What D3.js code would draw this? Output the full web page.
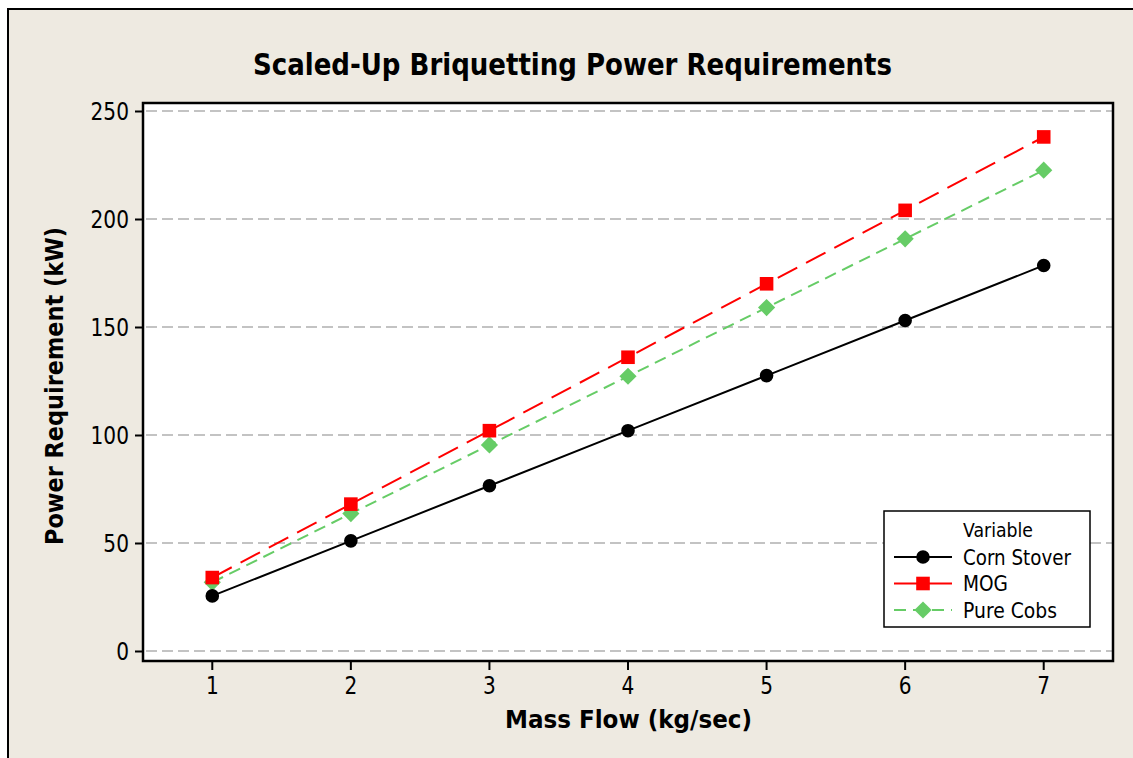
<!DOCTYPE html>
<html>
<head>
<meta charset="utf-8">
<script src="https://cdn.jsdelivr.net/npm/d3@7"></script>
<style>
  body { margin: 0; background: #ffffff; }
  text { font-family: "DejaVu Sans", Verdana, sans-serif; fill: #000; }
</style>
</head>
<body>
<svg id="chart" width="1133" height="758"></svg>
<script>
// Mass flow (kg/sec) on the x axis
const massFlow = [1, 2, 3, 4, 5, 6, 7];
// Power requirement (kW) per feedstock
const cornStover = [25.5, 51, 76.5, 102, 127.5, 153, 178.5];
const mog = [34, 68, 102, 136, 170, 204, 238];
const pureCobs = [31.8, 63.6, 95.4, 127.2, 159, 190.8, 222.6];
const seriesNames = ["Corn Stover", "MOG", "Pure Cobs"];
const xTicks = [1, 2, 3, 4, 5, 6, 7];
const yTicks = [0, 50, 100, 150, 200, 250];

const svg = d3.select("#chart");
const W = 1133, H = 758;

// panel background and outer frame
svg.append("rect").attr("x", 0).attr("y", 0).attr("width", W).attr("height", H).attr("fill", "#ffffff");
svg.append("rect").attr("x", 8).attr("y", 9).attr("width", W + 20).attr("height", H + 20)
  .attr("fill", "#eeeae1").attr("stroke", "#000").attr("stroke-width", 2);

const plot = { left: 143, right: 1113, top: 103, bottom: 661 };

const x = d3.scaleLinear().domain([0.5, 7.5]).range([plot.left, plot.right]);
const y = d3.scaleLinear().domain([0, 250]).range([651, 111]);

// plot area
svg.append("rect")
  .attr("x", plot.left).attr("y", plot.top)
  .attr("width", plot.right - plot.left).attr("height", plot.bottom - plot.top)
  .attr("fill", "#ffffff");

// horizontal dashed gridlines
svg.append("g").selectAll("line").data(yTicks).join("line")
  .attr("x1", plot.left + 3).attr("x2", plot.right - 1)
  .attr("y1", d => y(d)).attr("y2", d => y(d))
  .attr("stroke", "#c3c3c3").attr("stroke-width", 2)
  .attr("stroke-dasharray", "11,5");

// plot frame
svg.append("rect")
  .attr("x", plot.left).attr("y", plot.top)
  .attr("width", plot.right - plot.left).attr("height", plot.bottom - plot.top)
  .attr("fill", "none").attr("stroke", "#000").attr("stroke-width", 2.5);

const tickScale = 0.84;

// y axis
const yAxis = svg.append("g").attr("transform", `translate(${plot.left},0)`)
  .call(d3.axisLeft(y).tickValues(yTicks).tickSize(8).tickPadding(6).tickFormat(d3.format("d")));
yAxis.select(".domain").remove();
yAxis.selectAll(".tick line").attr("stroke", "#000").attr("stroke-width", 2);
yAxis.selectAll(".tick text")
  .attr("font-size", 24).attr("font-family", "DejaVu Sans")
  .attr("x", -14 / tickScale).attr("dy", "0.36em")
  .attr("transform", `scale(${tickScale},1)`);

// x axis
const xAxis = svg.append("g").attr("transform", `translate(0,${plot.bottom})`)
  .call(d3.axisBottom(x).tickValues(xTicks).tickSize(9).tickPadding(8).tickFormat(d3.format("d")));
xAxis.select(".domain").remove();
xAxis.selectAll(".tick line").attr("stroke", "#000").attr("stroke-width", 2);
xAxis.selectAll(".tick text")
  .attr("font-size", 24).attr("font-family", "DejaVu Sans")
  .attr("y", 16).attr("dy", "0.71em")
  .attr("transform", `scale(${tickScale},1)`)
  .attr("x", function () { return 0; });
// keep x tick labels centred on their tick after compression
xAxis.selectAll(".tick").each(function (d) {
  const g = d3.select(this);
  g.attr("transform", `translate(${x(d)},0)`);
});

// series drawing
const series = [
  { name: seriesNames[0], values: cornStover, color: "#000000", dash: null, marker: "circle" },
  { name: seriesNames[1], values: mog, color: "#ff0000", dash: "22,10", marker: "square" },
  { name: seriesNames[2], values: pureCobs, color: "#66cc66", dash: "12,7", marker: "diamond" }
];

function markerPath(type) {
  if (type === "circle") return d3.symbol(d3.symbolCircle, Math.PI * 6.8 * 6.8)();
  if (type === "square") return "M-6.8,-6.8H6.8V6.8H-6.8Z";
  return "M0,-8.6L8.6,0L0,8.6L-8.6,0Z";
}

const line = d3.line().x((d, i) => x(massFlow[i])).y(d => y(d));

// draw in back-to-front order: pure cobs, MOG, corn stover
[series[2], series[1], series[0]].forEach(s => {
  svg.append("path").datum(s.values)
    .attr("d", line)
    .attr("fill", "none")
    .attr("stroke", s.color).attr("stroke-width", 2)
    .attr("stroke-dasharray", s.dash);
  svg.append("g").selectAll("path").data(s.values).join("path")
    .attr("d", markerPath(s.marker))
    .attr("transform", (d, i) => `translate(${x(massFlow[i])},${y(d)})`)
    .attr("fill", s.color);
});

// title and axis labels
svg.append("text")
  .attr("x", 572.5).attr("y", 75)
  .attr("text-anchor", "middle")
  .attr("font-size", 31).attr("font-weight", "bold")
  .attr("textLength", 639).attr("lengthAdjust", "spacingAndGlyphs")
  .text("Scaled-Up Briquetting Power Requirements");

svg.append("text")
  .attr("x", 628.5).attr("y", 728)
  .attr("text-anchor", "middle")
  .attr("font-size", 25).attr("font-weight", "bold")
  .attr("textLength", 247).attr("lengthAdjust", "spacingAndGlyphs")
  .text("Mass Flow (kg/sec)");

svg.append("text")
  .attr("transform", "translate(63,386) rotate(-90)")
  .attr("text-anchor", "middle")
  .attr("font-size", 25).attr("font-weight", "bold")
  .attr("textLength", 318).attr("lengthAdjust", "spacingAndGlyphs")
  .text("Power Requirement (kW)");

// legend
const legend = svg.append("g");
legend.append("rect")
  .attr("x", 884).attr("y", 511).attr("width", 206).attr("height", 116)
  .attr("fill", "#ffffff").attr("stroke", "#000").attr("stroke-width", 1.5);
legend.append("text")
  .attr("x", 963).attr("y", 537)
  .attr("font-size", 20)
  .attr("textLength", 70).attr("lengthAdjust", "spacingAndGlyphs")
  .text("Variable");
const legendWidths = [108, 45, 94];
series.forEach((s, i) => {
  const ly = 557 + i * 26.5;
  legend.append("line")
    .attr("x1", 894).attr("x2", 952).attr("y1", ly).attr("y2", ly)
    .attr("stroke", s.color).attr("stroke-width", 2)
    .attr("stroke-dasharray", s.dash ? (s.marker === "diamond" ? "12,7" : null) : null);
  legend.append("path")
    .attr("d", markerPath(s.marker))
    .attr("transform", `translate(923,${ly})`)
    .attr("fill", s.color);
  legend.append("text")
    .attr("x", 963).attr("y", ly + 7.5)
    .attr("font-size", 21)
    .attr("textLength", legendWidths[i]).attr("lengthAdjust", "spacingAndGlyphs")
    .text(s.name);
});
</script>
</body>
</html>
